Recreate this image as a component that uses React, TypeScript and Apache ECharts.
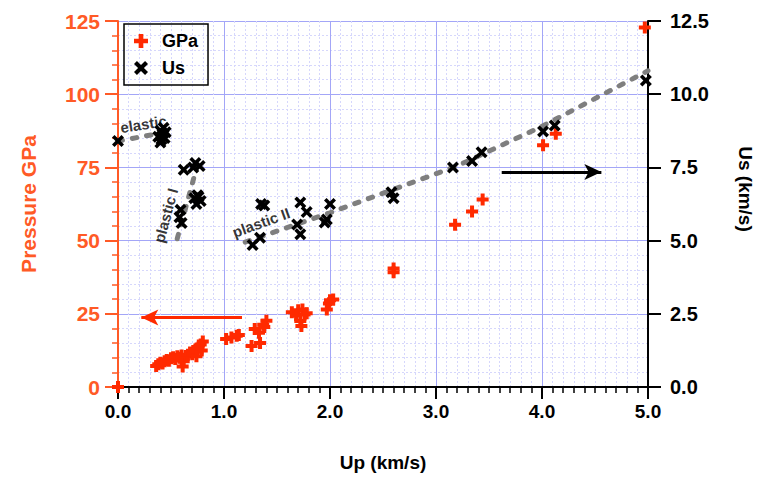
import React, { useEffect, useRef } from "react";
import * as echarts from "echarts";

// Up (km/s) vs Pressure (GPa)
const gpaPoints: number[][] = [
  [0.0, 0.0],
  [0.36, 7.2], [0.38, 7.8], [0.4, 8.3], [0.42, 8.0], [0.44, 8.8], [0.46, 9.2], [0.48, 9.0],
  [0.5, 9.8], [0.52, 10.2], [0.54, 9.6], [0.56, 10.5], [0.58, 10.0], [0.6, 9.2], [0.61, 7.0],
  [0.62, 8.8], [0.6, 10.8], [0.64, 10.6], [0.66, 11.0], [0.68, 11.8], [0.7, 11.2], [0.71, 12.3],
  [0.73, 12.8], [0.75, 12.0], [0.76, 13.5], [0.78, 14.5], [0.79, 12.5], [0.74, 10.5], [0.8, 15.5],
  [1.02, 16.4], [1.07, 16.9], [1.12, 17.5], [1.14, 17.8],
  [1.26, 14.0], [1.34, 15.0], [1.29, 19.8], [1.33, 18.5], [1.37, 21.3], [1.4, 22.6], [1.38, 20.5],
  [1.64, 25.5], [1.7, 26.2], [1.74, 26.5], [1.78, 25.2], [1.72, 22.5], [1.73, 20.8], [1.76, 24.8],
  [1.68, 24.5], [1.97, 26.5], [1.99, 28.5], [2.03, 29.9], [2.0, 29.6],
  [2.6, 40.5], [2.6, 39.2],
  [3.18, 55.4], [3.34, 59.9], [3.44, 64.0],
  [4.01, 82.6], [4.13, 86.5],
  [4.97, 122.8],
];

// Up (km/s) vs Us (km/s)
const usPoints: number[][] = [
  [0.0, 8.4],
  [0.38, 8.55], [0.4, 8.75], [0.41, 8.45], [0.42, 8.65], [0.43, 8.85], [0.44, 8.5], [0.45, 8.7], [0.4, 8.35],
  [0.62, 7.42], [0.73, 7.65], [0.77, 7.55], [0.71, 7.5],
  [0.72, 6.45], [0.75, 6.55], [0.78, 6.35], [0.74, 6.25], [0.76, 6.5],
  [0.59, 6.05], [0.58, 5.8], [0.6, 5.6],
  [1.27, 4.85], [1.34, 5.1], [1.35, 6.25], [1.38, 6.2],
  [1.72, 6.3], [1.78, 5.98], [1.69, 5.55], [1.72, 5.22], [2.0, 6.25], [1.97, 5.72], [1.95, 5.62],
  [2.58, 6.65], [2.6, 6.45],
  [3.16, 7.5], [3.34, 7.72], [3.43, 8.02],
  [4.01, 8.73], [4.12, 8.93],
  [4.98, 10.47],
];

// dashed fit lines (Us)
const elasticFit: number[][] = [[0.0, 8.4], [0.45, 8.7]];
const plasticIFit: number[][] = [[0.75, 7.6], [0.55, 4.95]];
const plasticIIFit: number[][] = [[1.2, 4.95], [2.0, 5.95], [2.6, 6.75], [3.2, 7.55], [4.0, 8.9], [5.0, 10.8]];

const xTicks = [0, 1, 2, 3, 4, 5];
const leftTicks = [0, 25, 50, 75, 100, 125];
const rightTicks = [0, 2.5, 5, 7.5, 10, 12.5];

const RED = "#ff2a00";
const ORANGE = "#ff5a26";
const FONT = "Liberation Sans, Arial, sans-serif";

const PLUS = "path://M4,0H8V4H12V8H8V12H4V8H0V4H4Z";
const CROSS = "path://M0,2.1L2.1,0L5,2.9L7.9,0L10,2.1L7.1,5L10,7.9L7.9,10L5,7.1L2.1,10L0,7.9L2.9,5Z";

export default function App() {
  const ref = useRef<HTMLDivElement>(null);
  useEffect(() => {
    if (!ref.current) return;
    document.body.style.margin = "0";
    const chart = echarts.init(ref.current, undefined, { renderer: "svg" });
    const majorGrid = { show: true, lineStyle: { color: "#a3a6f7", width: 1 } };
    const minorGrid = { show: true, lineStyle: { color: "#d6d7fc", width: 1, type: [2, 2] as any } };
    const fitStyle = { color: "#7f7f7f", width: 5, type: [4.5, 10] as any, cap: "round" as any };
    const fitSeries = (d: number[][]) => ({
      type: "line",
      yAxisIndex: 1,
      data: d,
      symbol: "none",
      silent: true,
      lineStyle: fitStyle,
      z: 1,
    });
    chart.setOption({
      animation: false,
      textStyle: { fontFamily: FONT },
      grid: { left: 118, right: 116, top: 21, bottom: 85 },
      legend: {
        left: 124,
        top: 24,
        orient: "vertical",
        padding: [8, 10, 8, 10],
        borderColor: "#000",
        borderWidth: 1.5,
        itemWidth: 32,
        itemHeight: 14,
        itemGap: 9,
        textStyle: { fontSize: 18, fontWeight: "bold", color: "#000", fontFamily: FONT },
        data: ["GPa", "Us"],
      },
      xAxis: {
        type: "value",
        min: 0,
        max: 5,
        interval: 1,
        name: "Up (km/s)",
        nameLocation: "middle",
        nameGap: 66,
        nameTextStyle: { fontSize: 19, fontWeight: "bold", color: "#000", fontFamily: FONT },
        axisLine: { show: true, onZero: false, lineStyle: { color: "#000", width: 2 } },
        axisTick: { show: true, length: 12, lineStyle: { color: "#000", width: 2 } },
        minorTick: { show: true, splitNumber: 10, length: 6, lineStyle: { color: "#000", width: 1.5 } },
        axisLabel: {
          margin: 15,
          fontSize: 19,
          fontWeight: "bold",
          color: "#000",
          formatter: (v: number) => (xTicks.includes(v) ? v.toFixed(1) : ""),
        },
        splitLine: majorGrid,
        minorSplitLine: minorGrid,
      },
      yAxis: [
        {
          type: "value",
          min: 0,
          max: 125,
          interval: 25,
          position: "left",
          name: "Pressure GPa",
          nameLocation: "middle",
          nameGap: 79,
          nameTextStyle: { fontSize: 21, fontWeight: "bold", color: ORANGE, fontFamily: FONT },
          axisLine: { show: true, onZero: false, lineStyle: { color: ORANGE, width: 2 } },
          axisTick: { show: true, length: 13, lineStyle: { color: ORANGE, width: 2 } },
          minorTick: { show: true, splitNumber: 5, length: 6, lineStyle: { color: ORANGE, width: 1.5 } },
          axisLabel: {
            margin: 18,
            fontSize: 21,
            fontWeight: "bold",
            color: ORANGE,
            formatter: (v: number) => (leftTicks.includes(v) ? String(v) : ""),
          },
          splitLine: majorGrid,
          minorSplitLine: minorGrid,
        },
        {
          type: "value",
          min: 0,
          max: 12.5,
          interval: 2.5,
          position: "right",
          name: "Us (km/s)",
          nameLocation: "middle",
          nameGap: 88,
          nameRotate: -90,
          nameTextStyle: {
            fontSize: 19,
            fontWeight: "bold",
            color: "#000",
            fontFamily: FONT,
            padding: [0, 30, 0, 0],
          },
          axisLine: { show: true, onZero: false, lineStyle: { color: "#000", width: 2 } },
          axisTick: { show: true, length: 13, lineStyle: { color: "#000", width: 2 } },
          axisLabel: {
            margin: 22,
            fontSize: 20,
            fontWeight: "bold",
            color: "#000",
            formatter: (v: number) => (rightTicks.includes(v) ? v.toFixed(1) : ""),
          },
          splitLine: { show: false },
        },
      ],
      series: [
        fitSeries(elasticFit),
        fitSeries(plasticIFit),
        fitSeries(plasticIIFit),
        {
          name: "GPa",
          type: "scatter",
          yAxisIndex: 0,
          data: gpaPoints,
          symbol: PLUS,
          symbolSize: 12,
          itemStyle: { color: RED, opacity: 1 },
          z: 3,
          markLine: {
            silent: true,
            symbol: ["none", "arrow"],
            symbolSize: [12, 17],
            label: { show: false },
            lineStyle: { color: RED, width: 3, type: "solid" },
            data: [[{ coord: [1.17, 23.7] }, { coord: [0.22, 23.7] }]],
          },
        },
        {
          name: "Us",
          type: "scatter",
          yAxisIndex: 1,
          data: usPoints,
          symbol: CROSS,
          symbolSize: 12,
          itemStyle: { color: "#000", opacity: 1 },
          z: 4,
          markLine: {
            silent: true,
            symbol: ["none", "arrow"],
            symbolSize: [12, 17],
            label: { show: false },
            lineStyle: { color: "#000", width: 3, type: "solid" },
            data: [[{ coord: [3.62, 7.34] }, { coord: [4.56, 7.34] }]],
          },
        },
        {
          type: "scatter",
          yAxisIndex: 1,
          symbolSize: 0,
          silent: true,
          z: 5,
          label: {
            show: true,
            position: "inside",
            fontSize: 15,
            fontWeight: "bold",
            color: "#000",
            textBorderWidth: 0,
            formatter: (p: any) => p.data.name,
          },
          data: [
            { name: "elastic", value: [0.24, 8.98], label: { rotate: 9 } },
            { name: "plastic I", value: [0.45, 5.86], label: { rotate: 75 } },
            { name: "plastic II", value: [1.35, 5.62], label: { rotate: 20 } },
          ],
        },
      ],
    });
    return () => chart.dispose();
  }, []);
  return <div ref={ref} style={{ width: 764, height: 477 }} />;
}
